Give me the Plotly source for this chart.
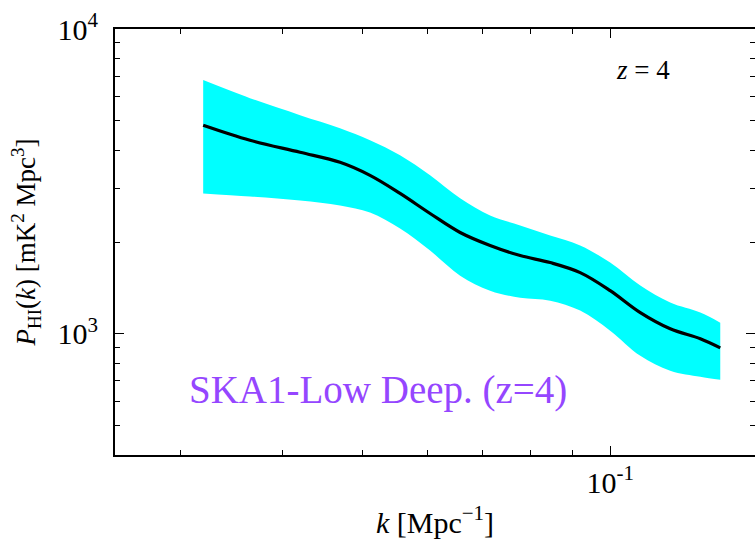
import plotly.graph_objects as go
import math

# ---- data ----
k_vals = [0.0320, 0.03648, 0.04197, 0.04694, 0.05105, 0.05553, 0.06040, 0.06570,
          0.07145, 0.07773, 0.08454, 0.09194, 0.1000, 0.1088, 0.1183, 0.1287, 0.1361]
p_mean = [4833, 4314, 3939, 3652, 3309, 2887, 2481, 2149,
          1948, 1805, 1712, 1587, 1385, 1173, 1038, 963, 899]
p_upper = [6796, 5929, 5214, 4724, 4314, 3850, 3309, 2781,
           2444, 2266, 2101, 1948, 1712, 1439, 1265, 1173, 1087]
p_lower = [2887, 2822, 2738, 2637, 2500, 2215, 1875, 1551,
           1385, 1313, 1284, 1191, 1023, 846, 756, 722, 706]

x_major = [0.1]
x_major_text = ["10<sup>-1</sup>"]
x_minor = [0.03, 0.04, 0.05, 0.06, 0.07, 0.08, 0.09]
y_major = [1000, 10000]
y_major_text = ["10<sup>3</sup>", "10<sup>4</sup>"]
y_minor = [400, 500, 600, 700, 800, 900, 2000, 3000, 4000, 5000, 6000, 7000, 8000, 9000]

x_range = [0.025, 0.15]
y_range = [400, 10000]

FONT = "Liberation Serif"
xr = [math.log10(v) for v in x_range]
yr = [math.log10(v) for v in y_range]

fig = go.Figure()
fig.add_trace(go.Scatter(x=k_vals, y=p_upper, mode="lines", line=dict(width=0, color="cyan", shape="spline"),
                         showlegend=False, hoverinfo="skip"))
fig.add_trace(go.Scatter(x=k_vals, y=p_lower, mode="lines", line=dict(width=0, color="cyan", shape="spline"),
                         fill="tonexty", fillcolor="#00FFFF", showlegend=False, hoverinfo="skip"))
fig.add_trace(go.Scatter(x=k_vals, y=p_mean, mode="lines", line=dict(width=3.2, color="black", shape="spline"),
                         showlegend=False))
# invisible trace for right-hand tick axis
fig.add_trace(go.Scatter(x=[k_vals[0]], y=[p_mean[0]], yaxis="y2", mode="markers",
                         marker=dict(opacity=0), showlegend=False, hoverinfo="skip"))

tickfont = dict(family=FONT, size=30, color="black")

fig.update_layout(
    width=755, height=544,
    margin=dict(l=115, r=0, t=29, b=89),
    paper_bgcolor="white", plot_bgcolor="white",
    xaxis=dict(type="log", range=xr, showgrid=False, zeroline=False,
               showline=True, linecolor="black", linewidth=2, mirror="ticks",
               ticks="inside", ticklen=9, tickwidth=1, tickcolor="black",
               tickvals=x_major, ticktext=x_major_text, tickfont=tickfont,
               minor=dict(tickvals=x_minor, ticks="inside", ticklen=5, tickwidth=1, tickcolor="black", showgrid=False),
               title=dict(text="<i>k</i> [Mpc<sup>−1</sup>]", font=dict(family=FONT, size=30, color="black"), standoff=14),
               automargin=False),
    yaxis=dict(type="log", range=yr, showgrid=False, zeroline=False,
               showline=True, linecolor="black", linewidth=2, mirror=False,
               ticks="inside", ticklen=9, tickwidth=1, tickcolor="black",
               tickvals=y_major, ticktext=y_major_text, tickfont=tickfont,
               ticklabelstandoff=9,
               minor=dict(tickvals=y_minor, ticks="inside", ticklen=5, tickwidth=1, tickcolor="black", showgrid=False),
               title=dict(text="<i>P</i><sub>HI</sub>(<i>k</i>) [mK<sup>2</sup> Mpc<sup>3</sup>]",
                          font=dict(family=FONT, size=27, color="black"), standoff=14),
               automargin=False),
    yaxis2=dict(type="log", range=yr, overlaying="y", side="right", anchor="x",
                showgrid=False, zeroline=False, showline=False,
                ticks="inside", ticklen=9, tickwidth=1, tickcolor="black",
                tickvals=y_major, showticklabels=False,
                minor=dict(tickvals=y_minor, ticks="inside", ticklen=5, tickwidth=1, tickcolor="black", showgrid=False)),
    annotations=[
        dict(text="<i>z</i> = 4", x=0.825, y=0.904, xref="paper", yref="paper",
             xanchor="center", yanchor="middle",
             showarrow=False, font=dict(family=FONT, size=27, color="black")),
        dict(text="SKA1-Low Deep. (z=4)", x=0.4117, y=0.152, xref="paper", yref="paper",
             xanchor="center", yanchor="middle",
             showarrow=False, font=dict(family=FONT, size=39, color="#9546ff")),
    ],
)

fig.write_html("out.html")
